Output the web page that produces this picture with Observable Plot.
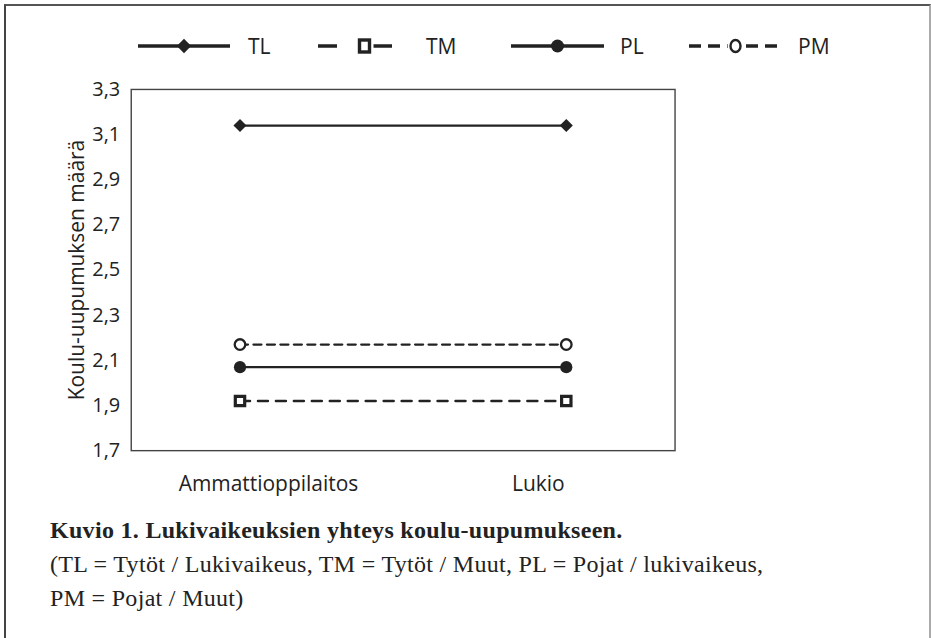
<!DOCTYPE html>
<html>
<head>
<meta charset="utf-8">
<script src="https://cdn.jsdelivr.net/npm/d3@7"></script>
<script src="https://cdn.jsdelivr.net/npm/@observablehq/plot@0.6"></script>
<style>
  html, body { margin: 0; padding: 0; background: #fff; }
  #wrap {
    margin: 4px 0 0 4px;
    width: 923px;
    height: 640px;
    border-left: 2px solid #444;
    border-top: 2px solid #555;
    border-right: 2px solid #aaa;
    box-sizing: content-box;
    font-family: "Open Sans", sans-serif;
    color: #222;
  }
  #legend { height: 60px; }
  #legend svg { display: block; }
  #chart svg { display: block; }
  #caption {
    margin: 4px 0 0 44px;
    font-family: "Liberation Serif", serif;
    font-size: 24px;
    line-height: 34px;
    letter-spacing: 0.3px;
    color: #222;
  }
  #caption b { font-weight: bold; }
</style>
</head>
<body>
<div id="wrap">
  <div id="legend"></div>
  <div id="chart"></div>
  <div id="caption">
    <b>Kuvio 1. Lukivaikeuksien yhteys koulu-uupumukseen.</b><br>
    (TL = Tytöt / Lukivaikeus, TM = Tytöt / Muut, PL = Pojat / lukivaikeus,<br>
    PM = Pojat / Muut)
  </div>
</div>
<script>
// ---- data ----
const categories = ["Ammattioppilaitos", "Lukio"];
const seriesNames = ["TL", "TM", "PL", "PM"];
const TL = [3.14, 3.14];
const TM = [1.92, 1.92];
const PL = [2.07, 2.07];
const PM = [2.17, 2.17];
const yTicks = [1.7, 1.9, 2.1, 2.3, 2.5, 2.7, 2.9, 3.1, 3.3];
const yLabel = "Koulu-uupumuksen määrä";

const values = {TL, TM, PL, PM};
const rows = seriesNames.flatMap(s => categories.map((c, i) => ({series: s, cat: c, value: values[s][i]})));
const of = s => rows.filter(d => d.series === s);

const ink = "#222";
const fmt = d => d.toFixed(1).replace(".", ",");

const chart = Plot.plot({
  width: 925,
  height: 444,
  marginLeft: 125,
  marginRight: 255,
  marginTop: 23,
  marginBottom: 59,
  style: {fontFamily: "Open Sans, sans-serif", fontSize: "21px", color: ink, background: "white"},
  x: {type: "point", domain: categories, padding: 0.332, label: null},
  y: {domain: [1.7, 3.3], label: null},
  marks: [
    Plot.frame({stroke: "#444", strokeWidth: 1.4}),
    Plot.axisY(yTicks, {tickSize: 0, tickPadding: 11, tickFormat: fmt, fill: ink, fontSize: 20, label: null}),
    Plot.axisX(["Ammattioppilaitos"], {tickSize: 0, tickPadding: 26, dx: 28.5, fill: ink, label: null}),
    Plot.axisX(["Lukio"], {tickSize: 0, tickPadding: 26, dx: -28, fill: ink, label: null}),
    Plot.text([yLabel], {frameAnchor: "left", textAnchor: "middle", lineAnchor: "middle", rotate: -90, dx: -54, fill: ink, fontSize: 21}),
    Plot.line(of("TL"), {x: "cat", y: "value", stroke: ink, strokeWidth: 2.3}),
    Plot.line(of("TM"), {x: "cat", y: "value", stroke: ink, strokeWidth: 2.5, strokeDasharray: "10,8"}),
    Plot.line(of("PL"), {x: "cat", y: "value", stroke: ink, strokeWidth: 2.3}),
    Plot.line(of("PM"), {x: "cat", y: "value", stroke: ink, strokeWidth: 2.3, strokeDasharray: "8,5.5"}),
    Plot.dot(of("TL"), {x: "cat", y: "value", symbol: "diamond2", r: 5.9, fill: ink, stroke: "none"}),
    Plot.dot(of("TM"), {x: "cat", y: "value", symbol: "square", r: 5.3, fill: "white", stroke: ink, strokeWidth: 3.2}),
    Plot.dot(of("PL"), {x: "cat", y: "value", symbol: "circle", r: 6.1, fill: ink, stroke: "none"}),
    Plot.dot(of("PM"), {x: "cat", y: "value", symbol: "circle", r: 5.3, fill: "white", stroke: ink, strokeWidth: 2.3})
  ]
});
document.getElementById("chart").appendChild(chart);

// ---- legend (HTML/SVG above the plot) ----
const legendSpec = {
  TL: {x0: 132, x1: 224, mark: "diamond", dash: null, tx: 242},
  TM: {x0: 312, x1: 405, mark: "square", dash: "19,36", tx: 420},
  PL: {x0: 505, x1: 598, mark: "dot", dash: null, tx: 614},
  PM: {x0: 683, x1: 776, mark: "circle", dash: "12,7", tx: 792}
};
const lsvg = d3.select("#legend").append("svg").attr("width", 925).attr("height", 60);
const cy = 40;
for (const s of seriesNames) {
  const L = legendSpec[s];
  const g = lsvg.append("g");
  const cx = (L.x0 + L.x1) / 2;
  g.append("line").attr("x1", L.x0).attr("x2", L.x1).attr("y1", cy).attr("y2", cy)
    .attr("stroke", ink).attr("stroke-width", 3.4)
    .attr("stroke-dasharray", L.dash);
  if (L.mark === "diamond") {
    g.append("path").attr("d", d3.symbol(d3.symbolDiamond2, 130)()).attr("transform", `translate(${cx},${cy})`).attr("fill", ink);
  } else if (L.mark === "square") {
    g.append("rect").attr("x", cx - 9).attr("y", cy - 9).attr("width", 18).attr("height", 18).attr("fill", "white");
    g.append("rect").attr("x", cx - 5).attr("y", cy - 6).attr("width", 10).attr("height", 12).attr("fill", "white").attr("stroke", ink).attr("stroke-width", 3.4);
  } else if (L.mark === "dot") {
    g.append("circle").attr("cx", cx).attr("cy", cy).attr("r", 6.5).attr("fill", ink);
  } else {
    g.append("circle").attr("cx", cx).attr("cy", cy).attr("r", 8).attr("fill", "white");
    g.append("ellipse").attr("cx", cx).attr("cy", cy).attr("rx", 5).attr("ry", 6).attr("fill", "white").attr("stroke", ink).attr("stroke-width", 2.4);
  }
  g.append("text").attr("x", L.tx).attr("y", cy).attr("dy", "0.36em")
    .attr("font-family", "Open Sans, sans-serif").attr("font-size", 21).attr("fill", ink).text(s);
}
</script>
</body>
</html>
